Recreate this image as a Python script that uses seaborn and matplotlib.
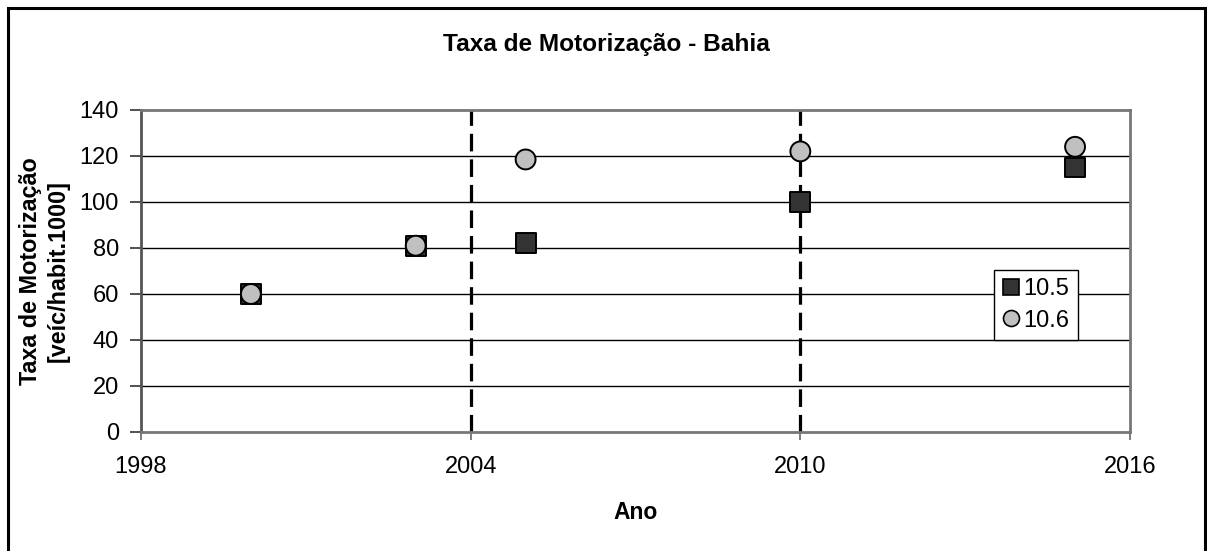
import matplotlib
matplotlib.use("Agg")
import matplotlib.pyplot as plt
from matplotlib.patches import Rectangle
from matplotlib.lines import Line2D
import seaborn as sns
import pandas as pd

# Data
years = [2000, 2003, 2005, 2010, 2015]
serie_105 = [60, 81, 82, 100, 115]
serie_106 = [60, 81, 118.5, 122, 124]
series_names = ["10.5", "10.6"]
x_ticks = [1998, 2004, 2010, 2016]
y_ticks = [0, 20, 40, 60, 80, 100, 120, 140]
period_marks = [2004, 2010]

df = pd.DataFrame({
    "Ano": years * 2,
    "Taxa": serie_105 + serie_106,
    "Serie": [series_names[0]] * len(years) + [series_names[1]] * len(years),
})

sns.set_theme(style="white")
plt.rcParams["font.family"] = ["Liberation Sans", "DejaVu Sans"]
plt.rcParams["text.color"] = "black"
plt.rcParams["axes.labelcolor"] = "black"
plt.rcParams["xtick.color"] = "black"
plt.rcParams["ytick.color"] = "black"

fig = plt.figure(figsize=(12.07, 5.51), dpi=100)
ax = fig.add_axes([141 / 1207, 1 - 432 / 551, (1130 - 141) / 1207, (432 - 110) / 551])

# outer chart border
fig.patches.append(Rectangle((8 / 1207, -0.01), (1205 - 8) / 1207, 1 - 8 / 551 + 0.01,
                             transform=fig.transFigure, fill=False,
                             edgecolor="black", linewidth=2.2, zorder=0))

# horizontal grid
for yv in y_ticks[1:-1]:
    ax.axhline(yv, color="black", linewidth=1.0, zorder=1)

# period separators
for xv in period_marks:
    ax.axvline(xv, color="black", linewidth=2.3, linestyle=(0, (5.5, 2.5)), zorder=2)

sns.scatterplot(
    data=df, x="Ano", y="Taxa", hue="Serie", style="Serie",
    markers={"10.5": "s", "10.6": "o"},
    palette={"10.5": "#333333", "10.6": "#c0c0c0"},
    s=205, edgecolor="black", linewidth=1.4, legend=False, ax=ax, zorder=3,
)

ax.set_xlim(1998, 2016)
ax.set_ylim(0, 140)
ax.set_xticks(x_ticks)
ax.set_yticks(y_ticks)
ax.tick_params(axis="x", direction="out", length=6, width=1.2, color="#666666",
               labelsize=17, labelcolor="black", pad=11, bottom=True)
ax.tick_params(axis="y", direction="out", length=8, width=1.2, color="#333333",
               labelsize=17, labelcolor="black", pad=8, left=True)

for side in ["left", "bottom", "top", "right"]:
    ax.spines[side].set_color("#777777")
    ax.spines[side].set_linewidth(2.0)
ax.spines["left"].set_color("#555555")

ax.set_xlabel("Ano", fontsize=16.5, fontweight="bold", labelpad=17, color="black")
ax.set_ylabel("Taxa de Motorização\n[veíc/habit.1000]", fontsize=16.8,
              fontweight="bold", linespacing=1.3, color="black")
ax.yaxis.set_label_coords(-0.0718, 0.5)

fig.text(606 / 1207, 1 - 44 / 551, "Taxa de Motorização - Bahia", ha="center",
         va="center", fontsize=17.6, fontweight="bold", color="black")

handles = [
    Line2D([], [], marker="s", linestyle="none", markersize=11.5,
           markerfacecolor="#333333", markeredgecolor="black", markeredgewidth=1.2),
    Line2D([], [], marker="o", linestyle="none", markersize=11.5,
           markerfacecolor="#c0c0c0", markeredgecolor="black", markeredgewidth=1.2),
]
leg = ax.legend(handles, series_names, loc="upper left",
                bbox_to_anchor=((994 - 141) / (1130 - 141), 1 - (270 - 110) / (432 - 110)),
                frameon=True, fancybox=False, fontsize=17, handlelength=0.7,
                handletextpad=0.2, borderpad=0.35, borderaxespad=0,
                labelspacing=0.4, framealpha=1)
leg.get_frame().set_edgecolor("black")
leg.get_frame().set_linewidth(1.0)

fig.savefig("out.png", dpi=100)
